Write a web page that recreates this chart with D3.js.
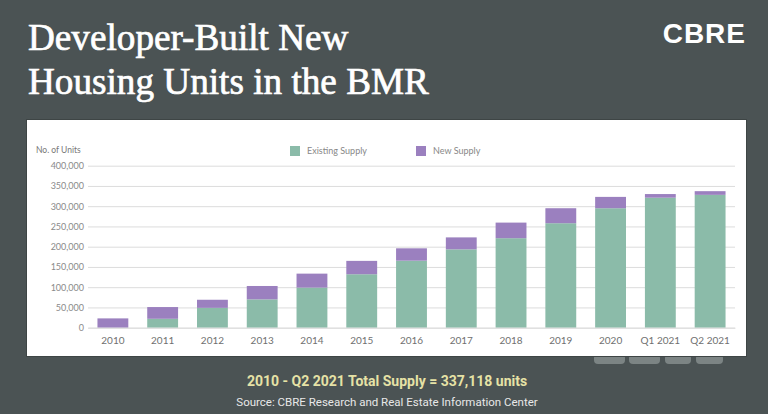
<!DOCTYPE html>
<html><head><meta charset="utf-8">
<script src="https://cdn.jsdelivr.net/npm/d3@7"></script>
<style>html,body{margin:0;padding:0;background:#4b5354;}svg{display:block;}</style>
</head><body>
<script>
const categories = ["2010","2011","2012","2013","2014","2015","2016","2017","2018","2019","2020","Q1 2021","Q2 2021"];
const existingSupply = [0,22000,49000,70000,99000,132000,165500,193500,221000,258000,295000,321000,328000];
const newSupply = [23000,29000,20000,33000,34500,33000,30500,29500,38500,37000,28000,9000,9118];
const yTicks = [0,50000,100000,150000,200000,250000,300000,350000,400000];
const seriesNames = ["Existing Supply","New Supply"];
const colors = ["#8bbba9","#9b80bf"];

const W=768,H=414;
const svg=d3.select("body").append("svg").attr("width",W).attr("height",H);
svg.append("rect").attr("width",W).attr("height",H).attr("fill","#4b5354");

// faint watermark peeking out below the panel (decorative shapes)
const wm=svg.append("g").attr("fill","#7c8484");
[[594,31],[629,31],[665,26],[696,27]].forEach(([x0,w])=>{
  wm.append("rect").attr("x",x0).attr("y",354).attr("width",w).attr("height",10).attr("rx",4);
});

// title
const title=svg.append("text").attr("font-family","Liberation Serif").attr("font-size",37.2)
  .attr("fill","#ffffff").attr("stroke","#ffffff").attr("stroke-width",0.7);
title.append("tspan").attr("x",28).attr("y",49.5).text("Developer-Built New");
title.append("tspan").attr("x",28).attr("y",94).text("Housing Units in the BMR");

svg.append("text").attr("x",746).attr("y",43).attr("text-anchor","end")
  .attr("font-family","Liberation Sans").attr("font-weight","bold").attr("font-size",28)
  .attr("letter-spacing",1).attr("fill","#ffffff").text("CBRE");

// panel
svg.append("rect").attr("x",26).attr("y",119).attr("width",721).attr("height",238).attr("fill","#3e4545");
svg.append("rect").attr("x",27).attr("y",120).attr("width",719).attr("height",236).attr("fill","#ffffff");

const x=d3.scaleBand().domain(categories).range([88,735]).paddingInner(0.38).paddingOuter(0.19);
const y=d3.scaleLinear().domain([0,400000]).range([327.7,165.7]);

const g=svg.append("g");
const yAxis=g.append("g").attr("transform","translate(88,0)")
  .call(d3.axisLeft(y).tickValues(yTicks).tickSize(-647).tickFormat(d3.format(",")).tickPadding(4));
yAxis.select(".domain").remove();
yAxis.selectAll(".tick line").attr("stroke","#dcdcdc").attr("stroke-width",1);
yAxis.selectAll(".tick text").attr("font-family","Lato").attr("font-size",9).attr("fill","#8a8a8a");

const stackData=categories.map((c,i)=>({cat:c,existing:existingSupply[i],fresh:newSupply[i]}));
const stack=d3.stack().keys(["existing","fresh"])(stackData);
g.selectAll("g.s").data(stack).join("g").attr("fill",(d,i)=>colors[i])
  .selectAll("rect").data(d=>d).join("rect")
  .attr("x",d=>x(d.data.cat)).attr("width",x.bandwidth())
  .attr("y",d=>y(d[1])).attr("height",d=>y(d[0])-y(d[1]));

const xAxis=g.append("g").attr("transform","translate(0,327.7)")
  .call(d3.axisBottom(x).tickSize(0).tickPadding(9));
xAxis.select(".domain").attr("stroke","#dcdcdc");
xAxis.selectAll(".tick text").attr("font-family","Lato").attr("font-size",10).attr("fill","#707070");

svg.append("text").attr("x",36).attr("y",153).attr("font-family","Lato").attr("font-size",8.5).attr("fill","#777").text("No. of Units");

// legend
const lx=[290,416];
seriesNames.forEach((n,i)=>{
  svg.append("rect").attr("x",lx[i]).attr("y",146).attr("width",10).attr("height",10).attr("fill",colors[i]);
  svg.append("text").attr("x",lx[i]+17).attr("y",154).attr("font-family","Lato").attr("font-size",9).attr("fill","#888").text(n);
});

svg.append("text").attr("x",387).attr("y",386).attr("text-anchor","middle")
  .attr("font-family","Roboto").attr("font-weight","bold").attr("font-size",14).attr("fill","#e6e2a6")
  .text("2010 - Q2 2021 Total Supply = 337,118 units");
svg.append("text").attr("x",387).attr("y",406).attr("text-anchor","middle")
  .attr("font-family","Roboto").attr("font-size",11.5).attr("fill","#e8e8e8")
  .text("Source: CBRE Research and Real Estate Information Center");
</script>
</body></html>
